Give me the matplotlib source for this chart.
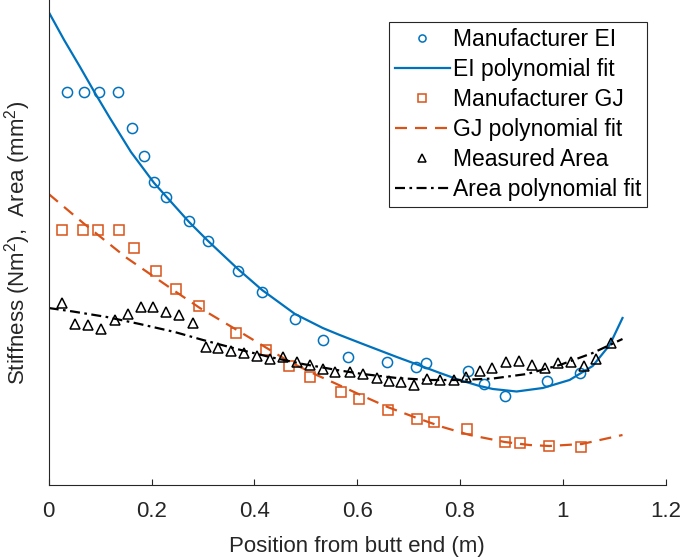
import matplotlib
matplotlib.use("Agg")
import matplotlib.pyplot as plt

# Manufacturer EI (arbitrary units)
ei_x = [0.035, 0.069, 0.097, 0.134, 0.162, 0.185, 0.205, 0.228, 0.273, 0.310,
        0.368, 0.415, 0.479, 0.533, 0.582, 0.658, 0.714, 0.733, 0.815, 0.846,
        0.887, 0.969, 1.033]
ei_y = [393, 393, 393, 393, 357, 329, 303, 288, 264, 244,
        214, 193, 166, 145, 128, 123, 118, 122, 114, 101,
        89, 104, 112]

ei_fit_x = [0.000, 0.030, 0.061, 0.090, 0.119, 0.160, 0.205, 0.273, 0.310, 0.368,
            0.415, 0.479, 0.533, 0.566, 0.611, 0.677, 0.714, 0.761, 0.799, 0.838,
            0.864, 0.910, 0.961, 1.013, 1.058, 1.091, 1.116]
ei_fit_y = [473, 445, 418, 392, 367, 333, 302, 263, 244, 216,
            195, 171, 157, 150, 141, 128, 121, 112, 105, 99,
            96, 93.5, 97, 105, 119, 140, 167]

# Manufacturer GJ
gj_x = [0.026, 0.067, 0.096, 0.136, 0.166, 0.208, 0.247, 0.293, 0.365, 0.422,
        0.468, 0.509, 0.568, 0.604, 0.660, 0.716, 0.749, 0.814, 0.887, 0.916,
        0.974, 1.036]
gj_y = [255, 255, 255, 255, 237, 214, 196, 179, 152, 135,
        119, 108, 93, 86, 75, 66, 63, 56, 43, 42,
        39, 38]

gj_fit_x = [0.000, 0.067, 0.152, 0.245, 0.294, 0.366, 0.424, 0.469, 0.521, 0.560,
            0.611, 0.659, 0.716, 0.766, 0.819, 0.887, 0.935, 0.974, 1.037, 1.072,
            1.116]
gj_fit_y = [291, 262, 227, 194, 177, 155, 137, 123, 110, 101,
            89, 78, 67, 58, 50, 43, 40, 39, 41, 45,
            50]

# Measured area
area_x = [0.025, 0.051, 0.076, 0.101, 0.128, 0.154, 0.179, 0.203, 0.229, 0.253,
          0.280, 0.306, 0.330, 0.354, 0.380, 0.405, 0.431, 0.456, 0.482, 0.508,
          0.533, 0.557, 0.586, 0.611, 0.638, 0.662, 0.686, 0.710, 0.736, 0.761,
          0.788, 0.812, 0.838, 0.863, 0.889, 0.915, 0.939, 0.965, 0.990, 1.015,
          1.041, 1.065, 1.093]
area_y = [182, 161, 160, 156, 165, 171, 178, 178, 173, 170,
          162, 138, 137, 134, 132, 129, 126, 128, 123, 120,
          116, 113, 113, 111, 107, 104, 103, 100, 106, 105,
          105, 108, 114, 117, 123, 124, 120, 117, 122, 123,
          119, 126, 142]

area_fit_x = [0.000, 0.047, 0.113, 0.177, 0.245, 0.300, 0.366, 0.430, 0.494, 0.566,
              0.611, 0.677, 0.741, 0.799, 0.864, 0.930, 0.994, 1.058, 1.116]
area_fit_y = [177, 173.5, 168, 161, 153, 145, 136, 128, 121, 114.5,
              111, 107, 105, 105, 106.5, 111, 120, 132, 146]

x_ticks = [0, 0.2, 0.4, 0.6, 0.8, 1.0, 1.2]
x_tick_labels = ["0", "0.2", "0.4", "0.6", "0.8", "1", "1.2"]

BLUE = "#0072BD"
ORANGE = "#D95319"
AXCOL = "#262626"

plt.rcParams["font.family"] = ["Liberation Sans", "DejaVu Sans"]
plt.rcParams["mathtext.fontset"] = "custom"
plt.rcParams["mathtext.rm"] = "Liberation Sans"
plt.rcParams["mathtext.it"] = "Liberation Sans"
plt.rcParams["font.size"] = 16

fig = plt.figure(figsize=(6.8, 5.59), dpi=100)
ax = fig.add_axes([48.7 / 680, 74 / 559, 617 / 680, 485 / 559])

ms = 7.3
ax.plot(ei_x, ei_y, "o", ls="none", mfc="none", mec=BLUE, mew=1.1, ms=ms,
        label="Manufacturer EI")
ax.plot(ei_fit_x, ei_fit_y, "-", color=BLUE, lw=1.6, label="EI polynomial fit")
ax.plot(gj_x, gj_y, "s", ls="none", mfc="none", mec=ORANGE, mew=1.1, ms=ms,
        label="Manufacturer GJ")
ax.plot(gj_fit_x, gj_fit_y, color=ORANGE, lw=1.6, dashes=(5.4, 3.6),
        label="GJ polynomial fit")
ax.plot(area_x, area_y, "^", ls="none", mfc="none", mec="black", mew=1.1, ms=ms,
        label="Measured Area")
ax.plot(area_fit_x, area_fit_y, color="black", lw=1.6, dashes=(4.5, 2.0, 1.2, 2.0),
        label="Area polynomial fit")

ax.set_xlim(0, 1.2)
ax.set_ylim(0, 485)
ax.set_xticks(x_ticks)
ax.set_xticklabels(x_tick_labels)
ax.set_yticks([])
for s in ["top", "right"]:
    ax.spines[s].set_visible(False)
for s in ["left", "bottom"]:
    ax.spines[s].set_color(AXCOL)
    ax.spines[s].set_linewidth(0.8)
ax.tick_params(axis="x", direction="in", length=4.3, width=0.8, color=AXCOL,
               labelcolor=AXCOL, pad=11.5)

ax.set_xlabel("Position from butt end (m)", color=AXCOL, labelpad=10)
ax.set_ylabel("Stiffness (Nm$^2$),  Area (mm$^2$)", color=AXCOL, labelpad=11)

leg = ax.legend(loc="upper right", bbox_to_anchor=(0.970, 0.955), borderaxespad=0,
                fancybox=False, edgecolor=AXCOL, framealpha=1, markerscale=0.7,
                handlelength=2.4, handletextpad=0.15, labelspacing=0.31,
                borderpad=0.25, fontsize=16.5)
leg.get_frame().set_linewidth(0.8)

fig.savefig("out.png", dpi=100)
